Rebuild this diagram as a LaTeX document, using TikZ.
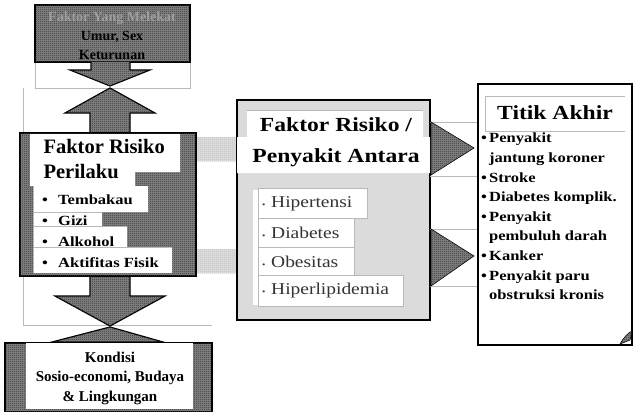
\documentclass[tikz,border=0pt]{standalone}
\usepackage{fontspec}
\setmainfont{Liberation Serif}
\newfontfamily\widefont[FakeStretch=1.18]{Liberation Serif}
\usetikzlibrary{patterns,positioning}

\pgfdeclarepatternformonly{checker}{\pgfqpoint{0pt}{0pt}}{\pgfqpoint{2pt}{2pt}}{\pgfqpoint{2pt}{2pt}}{%
\pgfpathrectangle{\pgfqpoint{0pt}{0pt}}{\pgfqpoint{1pt}{1pt}}%
\pgfpathrectangle{\pgfqpoint{1pt}{1pt}}{\pgfqpoint{1pt}{1pt}}%
\pgfusepath{fill}}

\begin{document}
\begin{tikzpicture}[x=1pt, y=-1pt,
dark/.style={draw=black, line width=1.2pt, fill=black!48, postaction={pattern=checker, pattern color=black!80}},
light/.style={fill=gray!25, postaction={pattern=checker, pattern color=gray!50}},
frame/.style={draw=gray!55, line width=0.5pt},
title/.style={font=\widefont\bfseries\fontsize{#1}{25}\selectfont},
title/.default=20,
item/.style={font=\widefont\bfseries\fontsize{14}{16}\selectfont, anchor=west, inner sep=0pt},
mid/.style={font=\widefont\fontsize{16.5}{18}\selectfont, text=gray!40!black, anchor=west, inner sep=0pt},
small/.style={font=\bfseries\fontsize{#1}{19.5}\selectfont, align=center},
small/.default=15]
\useasboundingbox (0,0) rectangle (635,412);

% frames of the left column
\draw[frame] (35,5) rectangle (190,88);
\draw[frame] (23,88) -- (23,325) -- (212,325);

% top box
\draw[dark] (35,5) rectangle (190,62);
\node[small=14, text=gray!75] (melekat) at (112,18) {Faktor Yang Melekat};
\node[small=14, text=black] (umur) at (112,37) {Umur, Sex};
\node[small=14, text=black] (keturunan) at (112,55) {Keturunan};

% block arrows
\draw[dark] (91,62) -- (91,70) -- (70,70) -- (110,86) -- (150,70) -- (130,70) -- (130,62);
\draw[dark] (110,88) -- (65,113) -- (90,113) -- (90,133) -- (130,133) -- (130,113) -- (155,113) -- cycle;
\draw[dark] (90,276) -- (90,296) -- (55,296) -- (110,326) -- (165,296) -- (130,296) -- (130,276);
\draw[dark] (110,327) -- (52,342) -- (163,342) -- cycle;

% Faktor Risiko Perilaku
\draw[dark] (20,133) rectangle (196,276);
\fill[white] (30,134) rectangle (180,172) (30,172) rectangle (135,186)
  (33,186) rectangle (148,212) (33,212) rectangle (102,226)
  (33,226) rectangle (127,247) (33,247) rectangle (172,273);
\draw[frame] (33,186) -- (33,273);
\draw[frame] (33,212) -- (102,212) (33,226) -- (127,226) (33,247) -- (172,247);
\node[font=\bfseries\fontsize{20.5}{25}\selectfont, align=left, anchor=north west] (perilaku) at (40,136) {Faktor Risiko\\Perilaku};
\node[item] (tembakau) at (42,200) {\makebox[16pt][l]{\textbullet}Tembakau};
\node[item] (gizi) at (42,221) {\makebox[16pt][l]{\textbullet}Gizi};
\node[item] (alkohol) at (42,242) {\makebox[16pt][l]{\textbullet}Alkohol};
\node[item] (aktifitas) at (42,263) {\makebox[16pt][l]{\textbullet}Aktifitas Fisik};

% light links to the middle box
\fill[light] (197,137) rectangle (237,161);
\fill[light] (197,249) rectangle (237,273);

% Faktor Risiko / Penyakit Antara
\draw[line width=1.5pt, fill=gray!28] (237,100) rectangle (430,320);
\fill[white] (247,110) rectangle (423,137) (237,137) rectangle (430,173);
\draw[frame] (247,110) -- (423,110);
\node[title] (antara1) at (336,125) {Faktor Risiko /};
\node[title] (antara2) at (336,158) {Penyakit Antara};
\fill[white] (253,190) rectangle (258,305);
\draw[frame, fill=white] (258,188) rectangle (367,218);
\draw[frame, fill=white] (258,218) rectangle (354,247);
\draw[frame, fill=white] (258,247) rectangle (354,275);
\draw[frame, fill=white] (258,275) rectangle (403,306);
\node[mid] (hipertensi) at (262,204) {\makebox[9pt][l]{\fontsize{8}{8}\selectfont\textbullet}Hipertensi};
\node[mid] (diabetes) at (262,233) {\makebox[9pt][l]{\fontsize{8}{8}\selectfont\textbullet}Diabetes};
\node[mid] (obesitas) at (262,262) {\makebox[9pt][l]{\fontsize{8}{8}\selectfont\textbullet}Obesitas};
\node[mid] (hiperlipidemia) at (262,291) {\makebox[9pt][l]{\fontsize{8}{8}\selectfont\textbullet}Hiperlipidemia};

% arrow heads to Titik Akhir
\draw[frame] (430,122) -- (478,122) (430,176) -- (478,176);
\draw[frame] (430,229) -- (478,229) (430,286) -- (478,286);
\draw[dark, line width=0.6pt] (431,122) -- (474,148) -- (431,175) -- cycle;
\draw[dark, line width=0.6pt] (431,229) -- (474,256) -- (431,286) -- cycle;

% Titik Akhir
\draw[line width=1.5pt, fill=white] (478,84) rectangle (632,345);
\draw[frame] (485,96) -- (625,96) (485,131) -- (625,131) (485,96) -- (485,131);
\node[title] (titik) at (555,113) {Titik Akhir};
\node[font=\widefont\bfseries\fontsize{14}{19.6}\selectfont, align=left, anchor=north west, inner sep=0pt] (akhir) at (481,133)
{\makebox[8pt][l]{\textbullet}Penyakit\\
\makebox[8pt][l]{}jantung koroner\\
\makebox[8pt][l]{\textbullet}Stroke\\
\makebox[8pt][l]{\textbullet}Diabetes komplik.\\
\makebox[8pt][l]{\textbullet}Penyakit\\
\makebox[8pt][l]{}pembuluh darah\\
\makebox[8pt][l]{\textbullet}Kanker\\
\makebox[8pt][l]{\textbullet}Penyakit paru\\
\makebox[8pt][l]{}obstruksi kronis};
\draw[dark, line width=0.6pt] (620,344) .. controls (624,337) and (628,333) .. (632,331) -- (630,340) -- cycle;

% Kondisi
\draw[dark] (5,343) rectangle (212,412);
\fill[white] (26,343) rectangle (193,409);
\node[small] (kondisi) at (110,378) {Kondisi\\Sosio-economi, Budaya\\\& Lingkungan};
\end{tikzpicture}
\end{document}
